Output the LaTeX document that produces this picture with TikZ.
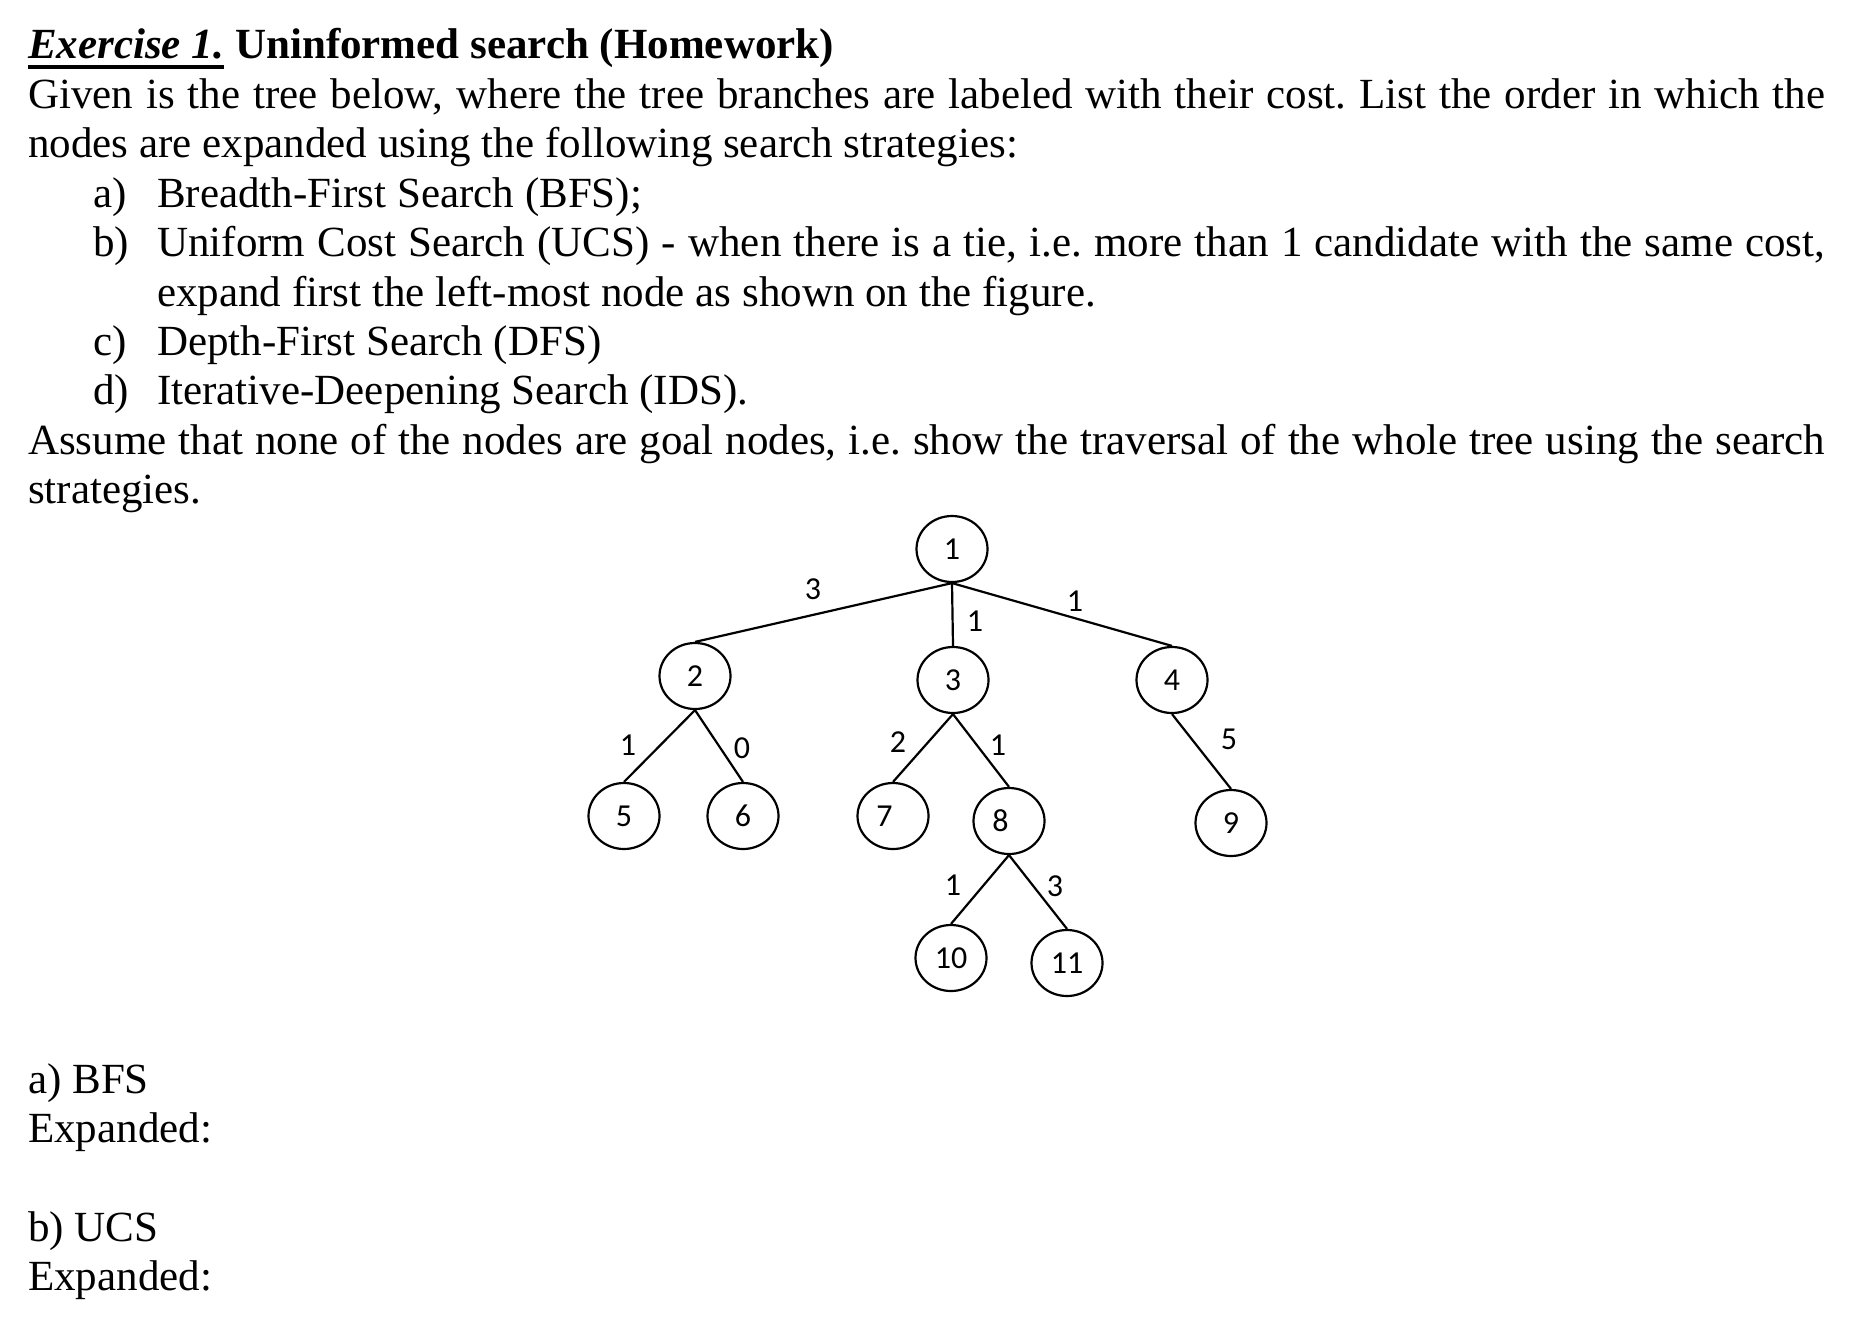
\documentclass[tikz,border=0pt]{standalone}
\usepackage{fontspec}
\setmainfont{Liberation Serif}[Ligatures=NoCommon]
\newfontfamily\numfont{Carlito}
\usetikzlibrary{shapes.geometric}
\newcommand\bodysize{\fontsize{43}{49.4}\selectfont\frenchspacing}
\newcommand\digitsize{\numfont\fontsize{32}{36}\selectfont}
% digit set a little left of the ellipse centre
\newcommand\leftdigit[1]{\makebox[0pt]{\kern-17pt #1}}
\tikzset{
  vertex/.style={draw, ellipse, line width=2.2pt, minimum width=71pt,
    minimum height=66pt, inner sep=0pt, font=\digitsize},
  cost/.style={inner sep=0pt, font=\digitsize},
  txt/.style={anchor=base west, inner sep=0pt, font=\bodysize},
}
\begin{document}
\begin{tikzpicture}[x=1pt, y=-1pt]
  \useasboundingbox[fill=white] (0,0) rectangle (1862,1338);
  % exercise text
  \node[txt, font=\bodysize\bfseries\itshape] (exer) at (28,59) {Exercise 1.};
  \node[txt, font=\bodysize\bfseries] (head) at (exer.base east) {\ Uninformed search (Homework)};
  \draw[line width=3pt] ([yshift=-8pt]exer.base west) -- ([yshift=-8pt]exer.base east);
  \node[txt] (given) at (28,108.4) {\makebox[1797pt][s]{Given is the tree below, where the tree branches are labeled with their cost. List the order in which the}};
  \node[txt] (nodes) at (28,157.8) {nodes are expanded using the following search strategies:};
  \node[txt] (ia) at (93,207.2) {a)};
  \node[txt] (bfs) at (157,207.2) {Breadth-First Search (BFS);};
  \node[txt] (ib) at (93,256.6) {b)};
  \node[txt] (ucs) at (157,256.6) {\makebox[1668pt][s]{Uniform Cost Search (UCS) - when there is a tie, i.e. more than 1 candidate with the same cost,}};
  \node[txt] (ucs2) at (157,306) {expand first the left-most node as shown on the figure.};
  \node[txt] (ic) at (93,355.4) {c)};
  \node[txt] (dfs) at (157,355.4) {Depth-First Search (DFS)};
  \node[txt] (id) at (93,404.8) {d)};
  \node[txt] (ids) at (157,404.8) {Iterative-Deepening Search (IDS).};
  \node[txt] (assume) at (28,454.2) {\makebox[1797pt][s]{Assume that none of the nodes are goal nodes, i.e. show the traversal of the whole tree using the search}};
  \node[txt] (strat) at (28,503.6) {strategies.};
  % tree
  \draw
    (952,549) node[vertex] (1){1}
    (695,676) node[vertex] (2){2}
    (953,680) node[vertex] (3){3}
    (1172,680) node[vertex] (4){4}
    (624,816) node[vertex] (5){5}
    (743,816) node[vertex] (6){6}
    (893,816) node[vertex] (7){\leftdigit{7}}
    (1009,821) node[vertex] (8){\leftdigit{8}}
    (1231,823) node[vertex] (9){9}
    (951,958) node[vertex] (10){10}
    (1067,963) node[vertex] (11){11};
  \begin{scope}[-, line width=2.2pt]
    \draw (1.south) to (2.north);
    \draw (1.south) to (3.north);
    \draw (1.south) to (4.north);
    \draw (2.south) to (5.north);
    \draw (2.south) to (6.north);
    \draw (3.south) to (7.north);
    \draw (3.south) to (8.north);
    \draw (4.south) to (9.north);
    \draw (8.south) to (10.north);
    \draw (8.south) to (11.north);
  \end{scope}
  % branch costs
  \node[cost] (c12) at (813,589) {3};
  \node[cost] (c13) at (975,621) {1};
  \node[cost] (c14) at (1075,601) {1};
  \node[cost] (c25) at (628,745) {1};
  \node[cost] (c26) at (742,748) {0};
  \node[cost] (c37) at (898,742) {2};
  \node[cost] (c38) at (998,745) {1};
  \node[cost] (c49) at (1229,739) {5};
  \node[cost] (c810) at (953,885) {1};
  \node[cost] (c811) at (1055,886) {3};
  % answer lines
  \node[txt] (bfsans) at (28,1093) {a) BFS};
  \node[txt] (bfsexp) at (28,1142.4) {Expanded:};
  \node[txt] (ucsans) at (28,1241.2) {b) UCS};
  \node[txt] (ucsexp) at (28,1290.6) {Expanded:};
\end{tikzpicture}
\end{document}
